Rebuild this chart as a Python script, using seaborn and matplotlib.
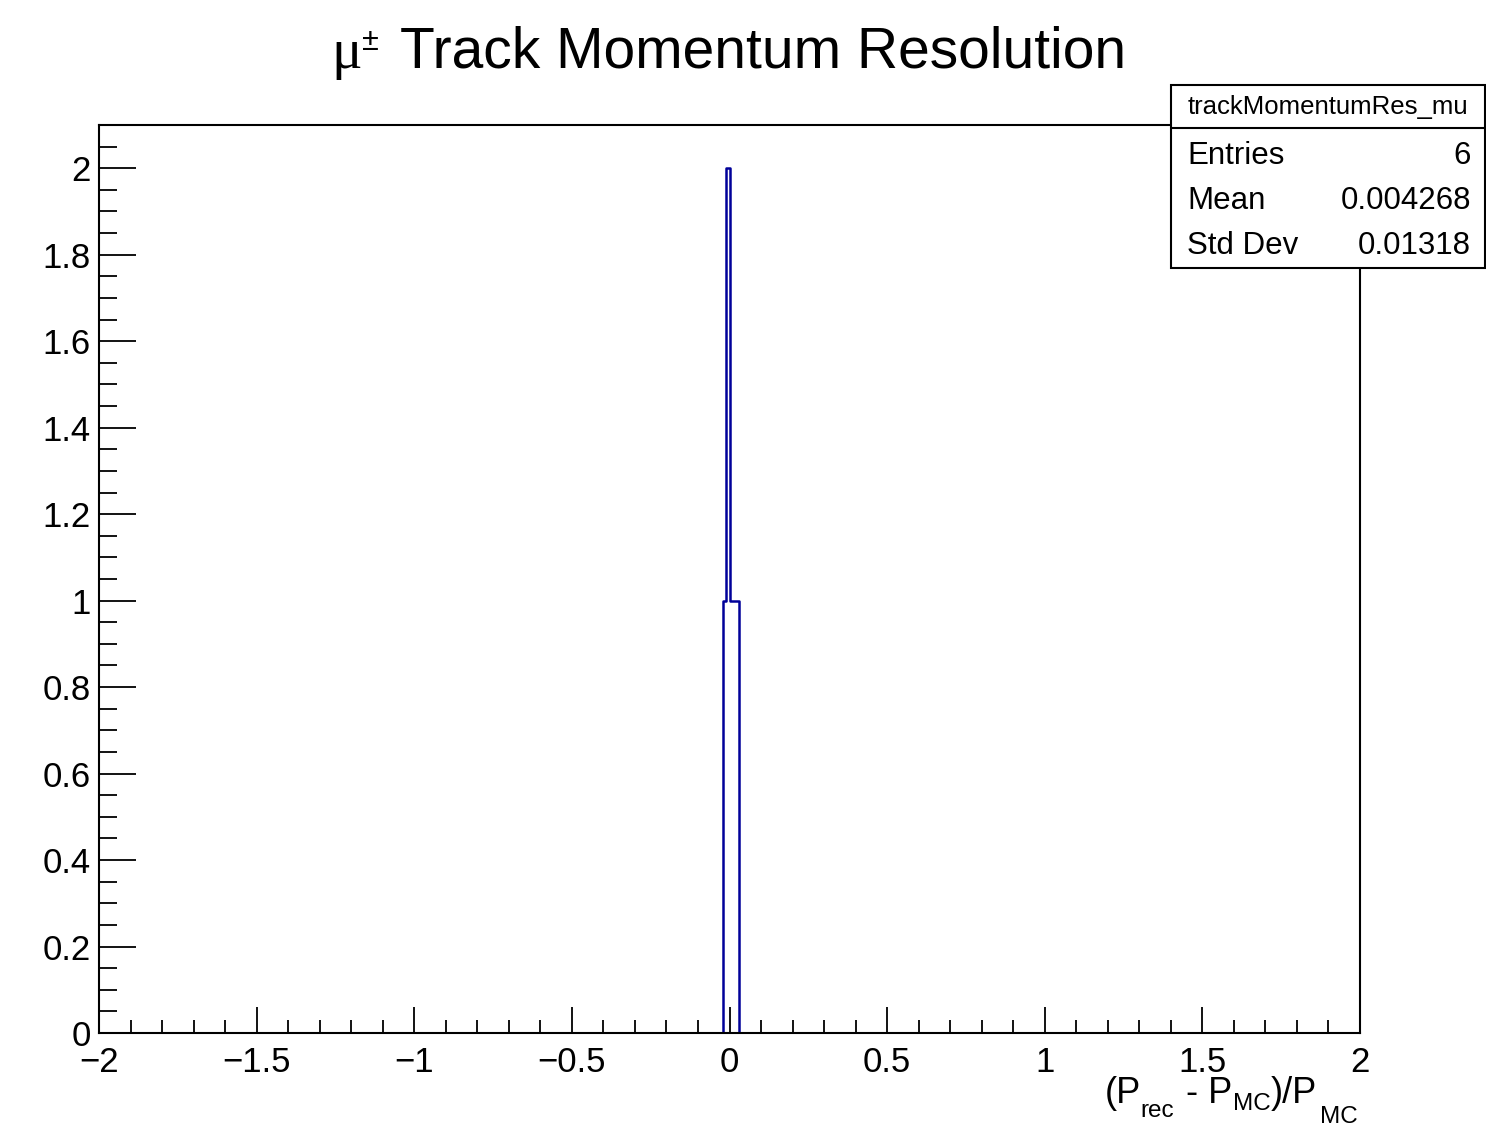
import numpy as np
import pandas as pd
import matplotlib
matplotlib.use("Agg")
import matplotlib.pyplot as plt
import seaborn as sns
from matplotlib.patches import Rectangle
from matplotlib.ticker import MultipleLocator

# histogram content (bin width 0.01)
bin_lo = [-0.02, -0.01, 0.00, 0.01, 0.02]
counts = [1, 2, 1, 1, 1]
stat_names = ["Entries", "Mean", "Std Dev"]
stat_values = ["6", "0.004268", "0.01318"]
hist_name = "trackMomentumRes_mu"
xtick_vals = [-2, -1.5, -1, -0.5, 0, 0.5, 1, 1.5, 2]
xtick_text = ["\u22122", "\u22121.5", "\u22121", "\u22120.5", "0", "0.5", "1", "1.5", "2"]
ytick_vals = [0, 0.2, 0.4, 0.6, 0.8, 1, 1.2, 1.4, 1.6, 1.8, 2]
ytick_text = ["0", "0.2", "0.4", "0.6", "0.8", "1", "1.2", "1.4", "1.6", "1.8", "2"]

sns.set_style("ticks")
plt.rcParams['font.family'] = ['Liberation Sans', 'DejaVu Sans']
plt.rcParams['text.color'] = 'black'
plt.rcParams['axes.labelcolor'] = 'black'

W, H = 1486, 1138
fig = plt.figure(figsize=(W / 100, H / 100), dpi=100)
ax = fig.add_axes([99 / W, 1 - 1033 / H, (1360 - 99) / W, (1033 - 125) / H])

df = pd.DataFrame({"x": np.array(bin_lo) + 0.005, "w": counts})
sns.histplot(data=df, x="x", weights="w", binwidth=0.01, binrange=(-2, 2),
             element="step", fill=False, color="#000099", linewidth=1.8, ax=ax)

ax.set_xlim(-2, 2)
ax.set_ylim(0, 2.1)
ax.set_xlabel("")
ax.set_ylabel("")
for s in ax.spines.values():
    s.set_linewidth(1.5)
    s.set_color("black")
    s.set_visible(True)

ax.xaxis.set_minor_locator(MultipleLocator(0.1))
ax.yaxis.set_minor_locator(MultipleLocator(0.05))
ax.set_xticks(xtick_vals)
ax.set_xticklabels(xtick_text)
ax.set_yticks(ytick_vals)
ax.set_yticklabels(ytick_text)
ax.tick_params(axis="both", which="both", direction="in", width=1.3, colors="black",
               labelsize=25)
ax.tick_params(axis="y", which="major", length=26.5, pad=6)
ax.tick_params(axis="y", which="minor", length=13)
ax.tick_params(axis="x", which="major", length=19, pad=9)
ax.tick_params(axis="x", which="minor", length=9.5)


def px_text(x, y, s, size, **kw):
    # place text by pixel position (from top-left), baseline aligned
    return fig.text(x / W, 1 - y / H, s, fontsize=size, va="baseline", **kw)


# title: serif mu, superscript +-, sans text
px_text(331, 68, "\u03bc", 41, family="Liberation Serif")
px_text(362, 50, "\u00b1", 22)
px_text(400, 68, "Track Momentum Resolution", 41)

# axis label built like ROOT's #it-less subscript layout
px_text(1105, 1103, "(P", 26)
px_text(1140, 1117, "rec", 17.5)
px_text(1186, 1103, "- P", 26)
px_text(1233, 1110, "MC", 17.5)
px_text(1271, 1103, ")/P", 26)
px_text(1320, 1123, "MC", 17.5)

# stats box
bx0, by0, bx1, by1 = 1171, 85, 1485, 268
fig.patches.append(Rectangle((bx0 / W, 1 - by1 / H), (bx1 - bx0) / W, (by1 - by0) / H,
                             transform=fig.transFigure, facecolor="white",
                             edgecolor="black", linewidth=1.5, zorder=5))
fig.add_artist(plt.Line2D([bx0 / W, bx1 / W], [1 - 128 / H, 1 - 128 / H],
                          transform=fig.transFigure, color="black", linewidth=1.5, zorder=6))
px_text((bx0 + bx1) / 2, 114, hist_name, 18.5, ha="center", zorder=7)
for i, (n, v) in enumerate(zip(stat_names, stat_values)):
    yy = 164 + 45 * i
    px_text(1187, yy, n, 22.5, ha="left", zorder=7)
    px_text(1471, yy, v, 22.5, ha="right", zorder=7)

plt.savefig("out.png", dpi=100)
